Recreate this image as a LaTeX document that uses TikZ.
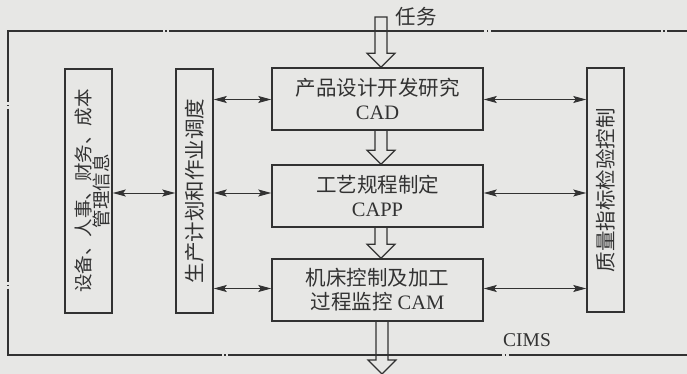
\documentclass[tikz,border=0pt]{standalone}
\usepackage{fontspec}
\setmainfont{Liberation Serif}
\newfontfamily\cjk{Noto Sans CJK SC}
\usetikzlibrary{arrows.meta,calc}
\definecolor{bg}{RGB}{231,231,229}
\definecolor{ink}{RGB}{50,50,50}
\newcommand\blockarrow[3]{%
  \draw[blk] ([xshift=-6pt]#1) -- ([xshift=-6pt,yshift=14pt]#2) -- ([xshift=-14pt,yshift=14pt]#2) -- (#2)
    -- ([xshift=14pt,yshift=14pt]#2) -- ([xshift=6pt,yshift=14pt]#2) -- ([xshift=6pt]#1)#3;}
\begin{document}
\begin{tikzpicture}[x=1pt,y=-1pt,
  box/.style={draw=ink, line width=1.5pt, inner sep=0pt, text=ink},
  cbox/.style={box, minimum width=211pt, minimum height=62pt, align=center,
    font=\fontsize{20.5}{24}\selectfont},
  vbox/.style={box, minimum width=37pt, minimum height=244pt},
  vtext/.style={rotate=90, text=ink, inner sep=0pt, align=center, font=\fontsize{20.5}{20}\selectfont},
  dbl/.style={draw=ink, line width=0.9pt, {Stealth[length=13pt,width=7pt,inset=2.5pt]}-{Stealth[length=13pt,width=7pt,inset=2.5pt]}},
  blk/.style={draw=ink, line width=1.1pt, line join=miter},
  frame/.style={draw=ink, line width=1.2pt,
    dash pattern=on 33pt off 2.5pt on 1.5pt off 2.5pt on 170pt off 2.5pt on 1.5pt off 2.5pt on 315pt off 2.5pt on 1.5pt off 2.5pt on 226pt off 2.5pt on 1.5pt off 2.5pt on 173pt off 2.5pt on 1.5pt off 2.5pt on 280pt off 2.5pt on 1.5pt off 2.5pt on 274pt off 2.5pt on 1.5pt off 2.5pt on 300pt off 1pt},
  lbl/.style={text=ink, inner sep=0pt}]
\useasboundingbox (0,0) rectangle (687,374);
\clip (0,0) rectangle (687,374);
\fill[bg] (0,0) rectangle (687,374);

% outer CIMS frame
\coordinate (ftr) at (700,31);
\coordinate (ftl) at (8,31);
\coordinate (fbl) at (8,355);
\coordinate (fbr) at (700,355);
\draw[frame] (ftr) -- (ftl) -- (fbl) -- (fbr);

% boxes
\node[cbox] (cad)  at (377.5,99)  {{\cjk 产品设计开发研究}\\CAD};
\node[cbox] (capp) at (377.5,196) {{\cjk 工艺规程制定}\\CAPP};
\node[cbox] (cam)  at (377.5,290) {{\cjk 机床控制及加工}\\{\cjk 过程监控} CAM};
\node[vbox, minimum width=47pt] (mgmt) at (88.5,191) {};
\node[vbox] (plan) at (194.5,191) {};
\node[vbox] (qual) at (605.5,190) {};
\node[vtext, font=\fontsize{18.5}{17}\selectfont] (mgmtt) at ([xshift=4pt]mgmt.center) {{\cjk 设备、人事、财务、成本}\\{\cjk 管理信息}};
\node[vtext] (plant) at (plan.center) {\cjk 生产计划和作业调度};
\node[vtext] (qualt) at (qual.center) {\cjk 质量指标检验控制};

% labels
\node[lbl, font=\fontsize{20.5}{20}\selectfont] (task) at (416,17) {\cjk 任务};
\node[lbl, font=\fontsize{19.5}{20}\selectfont] (cims) at (527,340) {CIMS};

% block arrows
\coordinate (ax) at (381,0);
\coordinate (a0s) at (381,17);
\coordinate (a0t) at (ax |- cad.north);
\coordinate (a1s) at (ax |- cad.south);
\coordinate (a1t) at (ax |- capp.north);
\coordinate (a2s) at (ax |- capp.south);
\coordinate (a2t) at (ax |- cam.north);
\coordinate (a3s) at (382,321);
\coordinate (a3t) at (382,374);
\blockarrow{a0s}{a0t}{ -- cycle}
\blockarrow{a1s}{a1t}{}
\blockarrow{a2s}{a2t}{}
\blockarrow{a3s}{a3t}{}

% double arrows
\coordinate (r1) at (0,99.5);
\coordinate (r2) at (0,193);
\coordinate (r3) at (0,288.5);
\draw[dbl] (mgmt.east |- r2) -- (plan.west |- r2);
\draw[dbl] (plan.east |- r1) -- (cad.west |- r1);
\draw[dbl] (plan.east |- r2) -- (capp.west |- r2);
\draw[dbl] (plan.east |- r3) -- (cam.west |- r3);
\draw[dbl] (cad.east |- r1) -- (qual.west |- r1);
\draw[dbl] (capp.east |- r2) -- (qual.west |- r2);
\draw[dbl] (cam.east |- r3) -- (qual.west |- r3);
\end{tikzpicture}
\end{document}
